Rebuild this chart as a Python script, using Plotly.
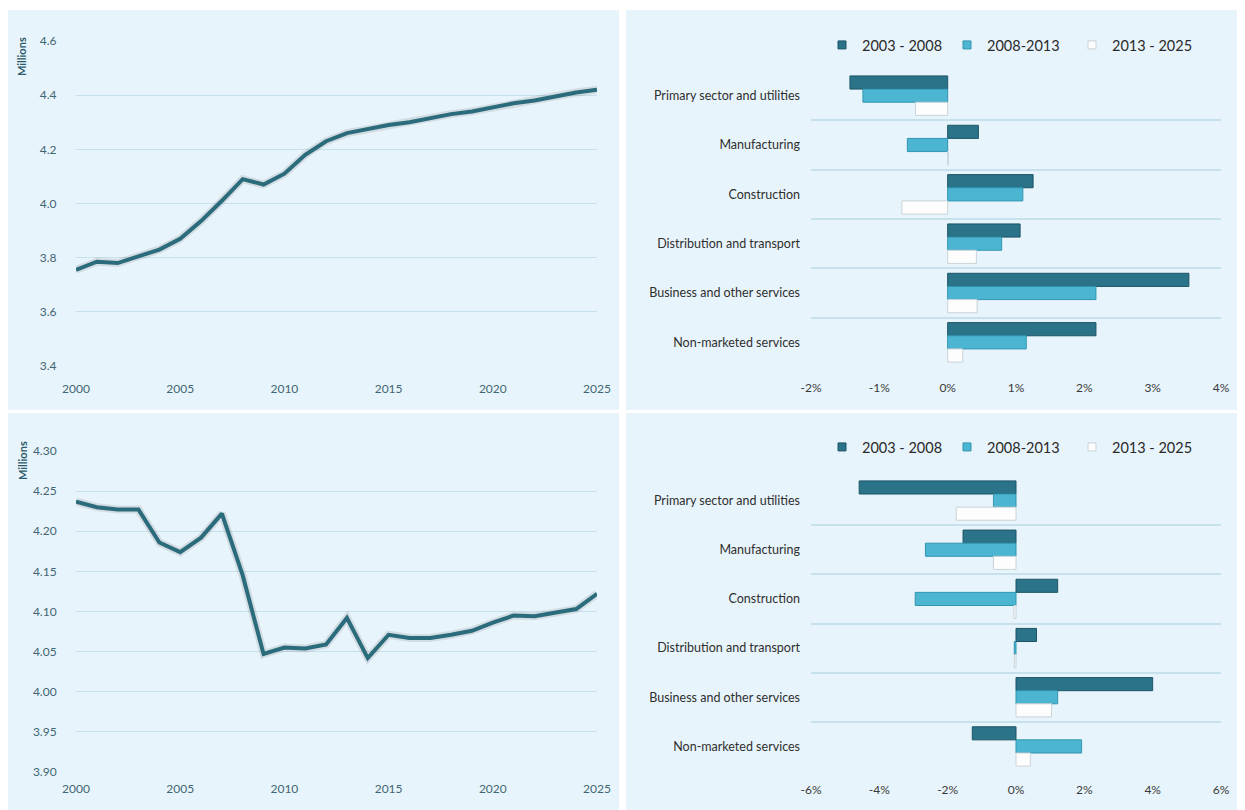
import plotly.graph_objects as go

years = list(range(2000, 2026))

# top-left: employment (millions)
emp_top = [3.755, 3.785, 3.780, 3.805, 3.830, 3.870, 3.935, 4.010, 4.090, 4.070,
           4.110, 4.180, 4.230, 4.260, 4.275, 4.290, 4.300, 4.315, 4.330, 4.340,
           4.355, 4.370, 4.380, 4.395, 4.410, 4.420]

# bottom-left: employment (millions)
emp_bottom = [4.237, 4.230, 4.227, 4.227, 4.186, 4.174, 4.192, 4.222, 4.145, 4.047,
              4.055, 4.054, 4.059, 4.092, 4.042, 4.071, 4.067, 4.067, 4.071, 4.076,
              4.086, 4.095, 4.094, 4.099, 4.103, 4.122]

sectors = ["Primary sector and utilities", "Manufacturing", "Construction",
           "Distribution and transport", "Business and other services",
           "Non-marketed services"]
periods = ["2003 - 2008", "2008-2013", "2013 - 2025"]

# top-right: annual growth by sector (%)
growth_top = {
    "2003 - 2008": [-1.43, 0.45, 1.25, 1.06, 3.53, 2.17],
    "2008-2013": [-1.24, -0.59, 1.10, 0.79, 2.17, 1.15],
    "2013 - 2025": [-0.47, 0.01, -0.67, 0.42, 0.43, 0.22],
}
# bottom-right: annual growth by sector (%)
growth_bottom = {
    "2003 - 2008": [-4.59, -1.55, 1.22, 0.60, 4.00, -1.28],
    "2008-2013": [-0.66, -2.65, -2.95, -0.05, 1.22, 1.92],
    "2013 - 2025": [-1.75, -0.66, -0.06, -0.05, 1.04, 0.42],
}

pct_ticks_top = [-2, -1, 0, 1, 2, 3, 4]
pct_ticks_bottom = [-6, -4, -2, 0, 2, 4, 6]

bar_colors = {"2003 - 2008": "#2a7388", "2008-2013": "#4cb6d2", "2013 - 2025": "#fdfdfd"}
bar_lines = {"2003 - 2008": "#1d5566", "2008-2013": "#3195b0", "2013 - 2025": "#c9d3d8"}

W, H = 1245, 810
OFF = 8  # page body margin
BG = "#e8f4fb"
GRID = "#c6e0ec"
LINE = "#2a6b7c"
FONT = "Lato, Open Sans, sans-serif"


def px(x):
    return max(0.0, (x - OFF) / W)


def py(y):
    return min(1.0, 1 - (y - OFF) / H)


fig = go.Figure()

# line charts
for emp, xa, ya in [(emp_top, "x", "y"), (emp_bottom, "x2", "y2")]:
    fig.add_trace(go.Scatter(x=years, y=emp, mode="lines", xaxis=xa, yaxis=ya,
                             line=dict(color="rgba(60,60,60,0.13)", width=8),
                             showlegend=False, hoverinfo="skip"))
    fig.add_trace(go.Scatter(x=years, y=emp, mode="lines", xaxis=xa, yaxis=ya,
                             line=dict(color=LINE, width=4), showlegend=False))

# bar charts (legend drawn by small marker-only traces)
for data, xa, ya, lg in [(growth_top, "x3", "y3", "legend"),
                         (growth_bottom, "x4", "y4", "legend2")]:
    for p in periods:
        fig.add_trace(go.Bar(
            x=data[p], y=sectors, orientation="h", name=p, xaxis=xa, yaxis=ya,
            showlegend=False, marker=dict(color=bar_colors[p],
                                          line=dict(color=bar_lines[p], width=1)),
        ))
    for p in periods:
        fig.add_trace(go.Scatter(
            x=[None], y=[None], mode="markers", name=p, xaxis=xa, yaxis=ya, legend=lg,
            marker=dict(symbol="square", size=8, color=bar_colors[p],
                        line=dict(color=bar_lines[p], width=1)),
        ))

line_x = dict(range=[2000, 2025], tickvals=[2000, 2005, 2010, 2015, 2020, 2025],
              showgrid=False, zeroline=False, showline=False, automargin=False,
              ticks="outside", ticklen=12, tickcolor="rgba(0,0,0,0)",
              tickfont=dict(size=12, color="#3f6674", family=FONT))
line_y = dict(showgrid=True, gridcolor=GRID, gridwidth=1, zeroline=False, automargin=False,
              ticks="outside", ticklen=16, tickcolor="rgba(0,0,0,0)",
              tickfont=dict(size=12, color="#3f6674", family=FONT))

bar_x = dict(showgrid=False, zeroline=False, showline=False,
             automargin=False, ticks="outside", ticklen=9, tickcolor="rgba(0,0,0,0)",
             tickfont=dict(size=12, color="#3a3a3a", family=FONT))
bar_y = dict(type="category", range=[5.52, -0.52], tickson="boundaries",
             showgrid=True, gridcolor=GRID, gridwidth=1.5, zeroline=False, automargin=False,
             ticks="", ticklabelstandoff=10,
             tickfont=dict(size=12.5, color="#2f2f2f", family=FONT))

legend_style = dict(orientation="h", xanchor="left", yanchor="middle",
                    font=dict(size=14.5, color="#2a2a2a", family=FONT),
                    bgcolor="rgba(0,0,0,0)", entrywidth=80, itemwidth=30,
                    traceorder="normal")

fig.update_layout(
    width=W, height=H, margin=dict(l=0, r=0, t=0, b=0, autoexpand=False),
    paper_bgcolor="white", plot_bgcolor="rgba(0,0,0,0)",
    font=dict(family=FONT),
    barmode="group", bargap=0.2, bargroupgap=0.0,
    xaxis=dict(line_x, domain=[px(76), px(597)], anchor="y"),
    yaxis=dict(line_y, domain=[py(366), py(41)], range=[3.4, 4.6], dtick=0.2,
               tickformat=".1f", anchor="x"),
    xaxis2=dict(line_x, domain=[px(76), px(597)], anchor="y2", ticklen=6),
    yaxis2=dict(line_y, domain=[py(772), py(451)], range=[3.9, 4.3], dtick=0.05,
                tickformat=".2f", anchor="x2"),
    xaxis3=dict(bar_x, domain=[px(811), px(1221)], range=[-2, 4], anchor="y3",
                tickvals=pct_ticks_top, ticktext=[f"{v}%" for v in pct_ticks_top]),
    yaxis3=dict(bar_y, domain=[py(368), py(70)], anchor="x3"),
    xaxis4=dict(bar_x, domain=[px(811), px(1221)], range=[-6, 6], anchor="y4", ticklen=7,
                tickvals=pct_ticks_bottom, ticktext=[f"{v}%" for v in pct_ticks_bottom]),
    yaxis4=dict(bar_y, domain=[py(772), py(475)], anchor="x4"),
    legend=dict(legend_style, x=px(822), y=py(45)),
    legend2=dict(legend_style, x=px(822), y=py(447)),
)

# panel backgrounds
panels = [(7, 10, 619, 410), (626, 10, 1253, 410), (7, 413, 619, 818), (626, 413, 1253, 818)]
for x0, y0, x1, y1 in panels:
    fig.add_shape(type="rect", xref="paper", yref="paper", layer="below",
                  x0=px(x0), x1=px(x1), y0=py(y1), y1=py(y0),
                  fillcolor=BG, line=dict(width=0))

for yc in [57, 461]:
    fig.add_annotation(text="<b>Millions</b>", xref="paper", yref="paper",
                       x=px(22), y=py(yc), xanchor="center", yanchor="middle",
                       textangle=-90, showarrow=False,
                       font=dict(size=11, color="#2d5b6b", family=FONT))

fig.write_html("out.html")
